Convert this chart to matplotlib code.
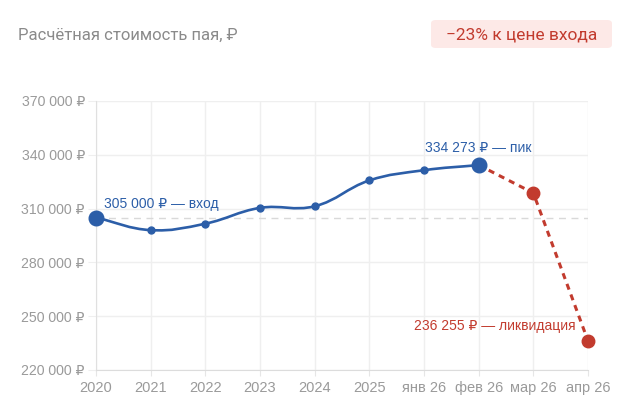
import numpy as np
import matplotlib
matplotlib.use("Agg")
import matplotlib.pyplot as plt
from matplotlib.path import Path
from matplotlib.patches import PathPatch, FancyBboxPatch

# ---- data ----
categories = ["2020", "2021", "2022", "2023", "2024", "2025", "янв 26", "фев 26", "мар 26", "апр 26"]
actual_values = [305000, 298000, 301600, 310400, 311300, 325700, 331400, 334273]
forecast_values = [334273, 318700, 236255]
entry_value = 305000
y_ticks = [220000, 250000, 280000, 310000, 340000, 370000]
title_text = "Расчётная стоимость пая, ₽"
badge_text = "−23% к цене входа"
label_entry = "305 000 ₽ — вход"
label_peak = "334 273 ₽ — пик"
label_liq = "236 255 ₽ — ликвидация"

BLUE = "#2c5ea8"
RED = "#c23b2e"
GRAY = "#9a9a9a"
FONT = ["Liberation Sans", "DejaVu Sans"]
plt.rcParams["font.family"] = FONT

W, H = 630, 420
fig = plt.figure(figsize=(W / 100, H / 100), dpi=100)
L, R, B, T = 96, 588, 370, 101
ax = fig.add_axes([L / W, 1 - B / H, (R - L) / W, (B - T) / H])

x_all = np.arange(len(categories))
ax.set_xlim(0, len(categories) - 1)
ax.set_ylim(y_ticks[0], y_ticks[-1])

# grid
ax.set_yticks(y_ticks)
ax.set_xticks(x_all)
ax.grid(True, color="#efefef", linewidth=1)
ax.set_axisbelow(True)
for s in ["top", "right"]:
    ax.spines[s].set_visible(False)
ax.spines["left"].set_color("#e0e0e0")
ax.spines["bottom"].set_color("#dcdcdc")
ax.tick_params(axis="y", length=6, color="#efefef", pad=2, labelcolor=GRAY, labelsize=10.2)
ax.tick_params(axis="x", length=4, color="#e6e6e6", pad=4, labelcolor=GRAY, labelsize=10.5)
ax.set_yticklabels([f"{v:,} ₽".replace(",", " ") for v in y_ticks])
ax.set_xticklabels(categories)

# entry reference line
ax.axhline(entry_value, color="#d9d9d9", linestyle=(0, (5, 4)), linewidth=1, zorder=1)

# smooth blue line (Chart.js style spline, tension 0.4)
xa = np.arange(len(actual_values), dtype=float)
ya = np.array(actual_values, dtype=float)
sx, sy = 54.7, 53.8 / 30000.0
px, py = xa * sx, ya * sy
tension = 0.4
n = len(px)
cp_prev = np.zeros((n, 2))
cp_next = np.zeros((n, 2))
for i in range(n):
    p = np.array([px[i], py[i]])
    pp = np.array([px[max(i - 1, 0)], py[max(i - 1, 0)]])
    pn = np.array([px[min(i + 1, n - 1)], py[min(i + 1, n - 1)]])
    d01 = np.hypot(*(p - pp))
    d12 = np.hypot(*(pn - p))
    tot = d01 + d12
    s01 = d01 / tot if tot else 0
    s12 = d12 / tot if tot else 0
    fa, fb = tension * s01, tension * s12
    cp_prev[i] = p - fa * (pn - pp)
    cp_next[i] = p + fb * (pn - pp)
verts = [(xa[0], ya[0])]
codes = [Path.MOVETO]
for i in range(n - 1):
    c1 = cp_next[i]
    c2 = cp_prev[i + 1]
    verts += [(c1[0] / sx, c1[1] / sy), (c2[0] / sx, c2[1] / sy), (xa[i + 1], ya[i + 1])]
    codes += [Path.CURVE4] * 3
ax.add_patch(PathPatch(Path(verts, codes), facecolor="none", edgecolor=BLUE, linewidth=1.9,
                       zorder=3, capstyle="round", clip_on=False))

# blue markers
ax.plot(xa[1:-1], ya[1:-1], "o", color=BLUE, markersize=5, zorder=4, clip_on=False)
ax.plot([xa[0], xa[-1]], [ya[0], ya[-1]], "o", color=BLUE, markersize=10.5, zorder=5, clip_on=False)

# red dashed forecast
xf = np.arange(len(actual_values) - 1, len(categories), dtype=float)
ax.plot(xf, forecast_values, color=RED, linewidth=2.2, linestyle=(0, (2.0, 1.7)), zorder=3, clip_on=False)
ax.plot(xf[1:], forecast_values[1:], "o", color=RED, markersize=9, zorder=5, clip_on=False)

# annotations
ax.annotate(label_entry, (xa[0], ya[0]), xytext=(8, 14), textcoords="offset pixels",
            color=BLUE, fontsize=10, ha="left", va="center")
ax.annotate(label_peak, (xa[-1], ya[-1]), xytext=(0, 17), textcoords="offset pixels",
            color=BLUE, fontsize=10, ha="center", va="center")
ax.annotate(label_liq, (xf[-1], forecast_values[-1]), xytext=(-12, 15), textcoords="offset pixels",
            color=RED, fontsize=10, ha="right", va="center")

# title and badge
fig.text(18 / W, 1 - 35 / H, title_text, color="#8a8a8a", fontsize=12, family=["Roboto", "DejaVu Sans"],
         ha="left", va="center")
badge = FancyBboxPatch((431 / W, 1 - 48 / H), (612 - 431) / W, 28 / H,
                       boxstyle="round,pad=0,rounding_size=0.008", transform=fig.transFigure,
                       facecolor="#fde9e7", edgecolor="none")
fig.patches.append(badge)
fig.text(521.5 / W, 1 - 34.5 / H, badge_text, color=RED, fontsize=12.5, family=["Roboto", "DejaVu Sans"],
         ha="center", va="center")

fig.savefig("out.png", dpi=100, facecolor="white")
